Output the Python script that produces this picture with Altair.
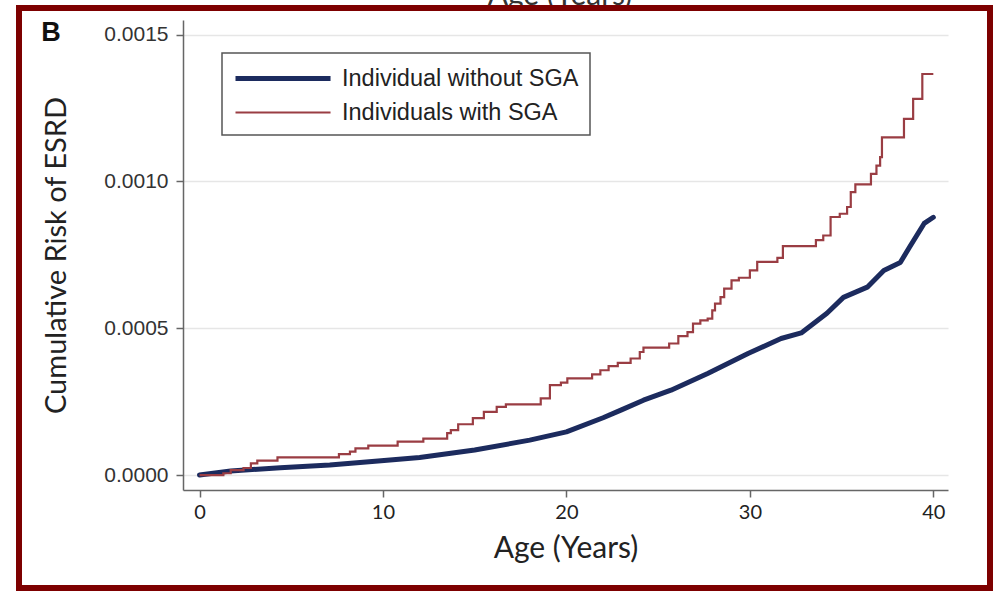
import altair as alt
import pandas as pd

series_names = ["Individual without SGA", "Individuals with SGA"]
series_colors = ["#1c2b5e", "#9a3d43"]
series_widths = [5, 2.2]

# Individuals without SGA (smooth-looking KM curve)
blue_age = [0, 1.7, 4.4, 7.1, 9.9, 12, 15, 18, 20, 22, 23, 24.2, 25.7, 27.7, 29.9,
            31.7, 32.8, 34.2, 35.1, 36.4, 37.3, 38.2, 38.7, 39.5, 40.0]
blue_risk = [0, 0.000014, 0.000025, 0.000034, 0.000049, 0.00006, 0.000085, 0.000119,
             0.000147, 0.000195, 0.000222, 0.000255, 0.000289, 0.000346, 0.000414,
             0.000465, 0.000484, 0.000551, 0.000605, 0.00064, 0.000697, 0.000724,
             0.000776, 0.000857, 0.000878]

# Individuals with SGA (step function)
red_age = [0, 1.3, 1.7, 2.4, 2.8, 3.15, 4.25, 7.6, 8.2, 8.5, 9.2, 10.8, 12.2, 13.5, 13.7,
           14.1, 14.9, 15.5, 16.2, 16.7, 18.6, 19.1, 19.7, 20.05, 21.4, 21.85, 22.3, 22.8,
           23.5, 24.0, 24.2, 25.6, 26.1, 26.6, 26.9, 27.3, 27.7, 27.95, 28.1, 28.4, 28.6,
           29.0, 29.4, 30.0, 30.4, 31.5, 31.8, 33.6, 34.0, 34.4, 34.9, 35.3, 35.5, 35.75,
           36.6, 36.9, 37.1, 37.2, 38.4, 38.9, 39.4, 40.0]
red_risk = [0, 0.000006, 0.000017, 0.000024, 0.00004, 0.000049, 0.00006, 0.000071, 0.00008,
            0.000091, 0.0001, 0.000114, 0.000124, 0.000143, 0.000153, 0.000173, 0.000194,
            0.000215, 0.000232, 0.000241, 0.000261, 0.000306, 0.000315, 0.000329, 0.000343,
            0.000357, 0.000371, 0.000382, 0.000397, 0.000419, 0.000434, 0.000448, 0.000473,
            0.000487, 0.000516, 0.000527, 0.000533, 0.000561, 0.000584, 0.000606, 0.000635,
            0.000663, 0.000672, 0.000697, 0.000726, 0.00074, 0.00078, 0.0008, 0.000816,
            0.000879, 0.00089, 0.000913, 0.000964, 0.00099, 0.001026, 0.001054, 0.001083,
            0.00115, 0.001213, 0.001281, 0.001366, 0.001366]

y_ticks = [0, 0.0005, 0.001, 0.0015]
x_ticks = [0, 10, 20, 30, 40]

df = pd.concat([
    pd.DataFrame({"series": series_names[0], "age": blue_age, "risk": blue_risk}),
    pd.DataFrame({"series": series_names[1], "age": red_age, "risk": red_risk}),
])

W, H = 765, 470
title_font = "Lato"

x_enc = alt.X("age:Q", scale=alt.Scale(domain=[-0.9, 40.8], nice=False, zero=False),
              axis=alt.Axis(values=x_ticks, title="Age (Years)", grid=False,
                            labelFont=title_font, labelFontSize=20, labelColor="#222",
                            titleFont=title_font, titleFontSize=30, titleFontWeight="normal",
                            titleColor="#222", titleBaseline="alphabetic", titleY=67,
                            tickSize=7, domainColor="#666", tickColor="#666", labelPadding=5))
y_enc = alt.Y("risk:Q", scale=alt.Scale(domain=[-0.000051, 0.00155], nice=False, zero=False),
              axis=alt.Axis(values=y_ticks, format=".4f", title="Cumulative Risk of ESRD",
                            grid=True, gridColor="#e6e6e6", gridWidth=1.5,
                            labelFont="Liberation Sans", labelFontSize=21, labelColor="#333",
                            titleFont=title_font, titleFontSize=29, titleFontWeight="normal",
                            titleColor="#222", titleBaseline="middle", titleX=-127,
                            titleY=235, tickSize=7,
                            domainColor="#666", tickColor="#666", labelPadding=8))
leg = alt.Legend(labelExpr="datum.label + '    '")
color_enc = alt.Color("series:N", scale=alt.Scale(domain=series_names, range=series_colors),
                      title=None, legend=leg)
sw_enc = alt.StrokeWidth("series:N", scale=alt.Scale(domain=series_names, range=series_widths),
                         title=None, legend=leg)

base = alt.Chart(df)
blue = base.transform_filter(alt.datum.series == series_names[0]).mark_line(
    interpolate="linear", strokeJoin="round", strokeCap="round"
).encode(x=x_enc, y=y_enc, color=color_enc, strokeWidth=sw_enc)
red = base.transform_filter(alt.datum.series == series_names[1]).mark_line(
    interpolate="step-after"
).encode(x=x_enc, y=y_enc, color=color_enc, strokeWidth=sw_enc)

one = alt.Data(values=[{"t": "Age (Years)"}])
prev_title = alt.Chart(one).mark_text(
    font=title_font, fontSize=30, color="#333", baseline="alphabetic", align="center"
).encode(x=alt.value(377), y=alt.value(-15), text="t:N")

panel = alt.Chart(alt.Data(values=[{"t": "B"}])).mark_text(
    font="Liberation Sans", fontSize=27, fontWeight="bold", color="#111",
    baseline="middle", align="center"
).encode(x=alt.value(-132), y=alt.value(13), text="t:N")

border = alt.Chart(one).mark_rect(
    fill=None, stroke="#7d0000", strokeWidth=6
).encode(x=alt.value(-164), x2=alt.value(807), y=alt.value(-12), y2=alt.value(568))

chart = alt.layer(blue, red, prev_title, panel, border).properties(
    width=W, height=H,
    padding={"left": 183, "top": 20, "right": 48, "bottom": 106},
    autosize=alt.AutoSizeParams(type="none"),
    background="white",
).configure_view(stroke=None).configure_axis(
    domainWidth=1.5, tickWidth=1.5
).configure_legend(
    orient="none", legendX=39, legendY=33, strokeColor="#555", strokeWidth=1.5,
    fillColor="white", padding=11, symbolType="M-1,0H6.92", symbolSize=576,
    labelFont="Liberation Sans", labelFontSize=23.5, labelColor="#222", labelOffset=80,
    labelLimit=500, rowPadding=9, symbolOpacity=1
)

chart.save("out.html", embed_options={"renderer": "svg", "actions": False})
